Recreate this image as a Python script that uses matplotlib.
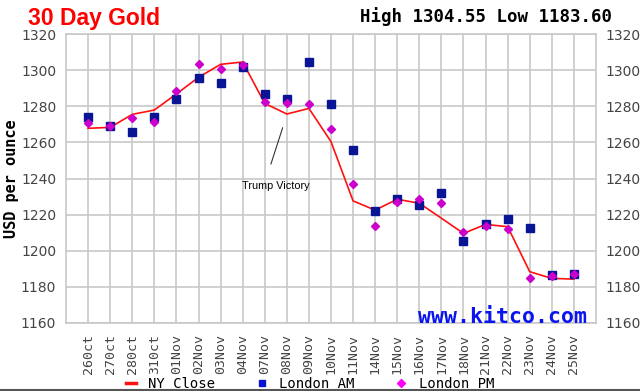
import matplotlib
matplotlib.use("Agg")
import matplotlib.pyplot as plt
from matplotlib.lines import Line2D

dates = ["26Oct", "27Oct", "28Oct", "31Oct", "01Nov", "02Nov", "03Nov", "04Nov",
         "07Nov", "08Nov", "09Nov", "10Nov", "11Nov", "14Nov", "15Nov", "16Nov",
         "17Nov", "18Nov", "21Nov", "22Nov", "23Nov", "24Nov", "25Nov"]
tick_labels = ["260ct", "270ct", "280ct", "310ct", "01Nov", "02Nov", "03Nov", "04Nov",
               "07Nov", "08Nov", "09Nov", "10Nov", "11Nov", "14Nov", "15Nov", "16Nov",
               "17Nov", "18Nov", "21Nov", "22Nov", "23Nov", "24Nov", "25Nov"]

ny_close = [1267.8, 1268.3, 1275.5, 1277.9, 1286.8, 1296.0, 1303.2, 1304.5,
            1281.6, 1275.7, 1278.8, 1260.4, 1227.6, 1222.5, 1228.5, 1226.3,
            1218.0, 1209.6, 1214.6, 1213.3, 1188.4, 1184.7, 1184.3]
london_am = [1273.9, 1269.1, 1265.9, 1274.0, 1284.2, 1295.8, 1292.9, 1301.9,
             1286.6, 1284.2, 1304.55, 1281.1, 1255.8, 1222.2, 1228.6, 1225.5,
             1231.8, 1205.6, 1214.6, 1217.6, 1212.8, 1186.7, 1187.3]
london_pm = [1270.9, 1269.1, 1273.3, 1271.4, 1288.4, 1303.4, 1300.8, 1302.7,
             1282.5, 1282.0, 1281.1, 1267.6, 1236.8, 1213.7, 1226.8, 1228.6,
             1226.3, 1210.6, 1213.9, 1212.0, 1185.0, 1186.0, 1187.3]

y_ticks = [1160, 1180, 1200, 1220, 1240, 1260, 1280, 1300, 1320]

W, H = 640, 391
fig = plt.figure(figsize=(W / 100, H / 100), dpi=100)
fig.patch.set_facecolor("white")
ax = fig.add_axes([66 / W, (H - 323) / H, 530 / W, 289 / H])

x = list(range(len(dates)))
ax.plot(x, ny_close, color="#ff1010", lw=1.2, zorder=3)
ax.plot(x, london_am, ls="none", marker="s", ms=5.5, color="#0a1596", zorder=4)
ax.plot(x, london_pm, ls="none", marker="D", ms=4.0, color="#cc00cc", zorder=5)

ax.set_xlim(-1, len(dates))
ax.set_ylim(1160, 1320)
ax.set_yticks(y_ticks)
ax.set_xticks(x)
ax.set_xticklabels(tick_labels, rotation=90, family="DejaVu Sans Mono",
                   fontsize=9.5, color="#444444")
ax.grid(True, color="#c8c8c8", lw=1.2)
ax.set_axisbelow(True)
for s in ax.spines.values():
    s.set_color("#c8c8c8")
    s.set_linewidth(1.2)
ax.tick_params(axis="both", length=0)
ax.tick_params(axis="x", pad=8)
ax.tick_params(axis="y", pad=7, labelsize=10, labelcolor="#444444",
               left=True, right=True, labelleft=True, labelright=True)
for lab in ax.get_yticklabels():
    lab.set_family("DejaVu Sans")

ax.set_ylabel("USD per ounce", family="DejaVu Sans Mono", fontweight="bold",
              fontsize=11, color="black", va="center")
ax.yaxis.set_label_coords(-0.102, 0.5)

# annotation
ax.annotate("", xy=(8.85, 1269.6), xytext=(8.24, 1246.5),
            arrowprops=dict(arrowstyle="-", color="#333333", lw=0.8))
ax.text(8.5, 1235.8, "Trump Victory", ha="center", va="center",
        family="Liberation Sans", fontsize=7.8, color="black")

ax.text(0.983, 0.0, "www.kitco.com", transform=ax.transAxes, ha="right",
        va="baseline", family="DejaVu Sans Mono", fontweight="bold",
        fontsize=15.5, color="#0a14f0")

fig.text(28 / W, 1 - 24.5 / H, "30 Day Gold", ha="left", va="baseline",
         family="Liberation Sans", fontweight="bold", fontsize=16.5, color="#ff0000")
fig.text(612 / W, 1 - 22 / H, "High 1304.55 Low 1183.60", ha="right", va="baseline",
         family="DejaVu Sans Mono", fontweight="bold", fontsize=12.5, color="black")

handles = [Line2D([], [], color="#ff1010", lw=2.5),
           Line2D([], [], ls="none", marker="s", ms=4, color="#0a14d0"),
           Line2D([], [], ls="none", marker="D", ms=4, color="#ff00ff")]
fig.legend(handles, ["NY Close", "London AM", "London PM"], loc="center",
           bbox_to_anchor=(310 / W, 1 - 384 / H), ncol=3, frameon=False,
           prop=dict(family="DejaVu Sans Mono", size=10), handlelength=0.7,
           handletextpad=0.9, columnspacing=3.0, borderpad=0, borderaxespad=0)

fig.add_artist(Line2D([0, 1], [1.2 / H, 1.2 / H], color="#555555", lw=1.5,
                      transform=fig.transFigure))

fig.savefig("out.png", dpi=100, facecolor="white")
